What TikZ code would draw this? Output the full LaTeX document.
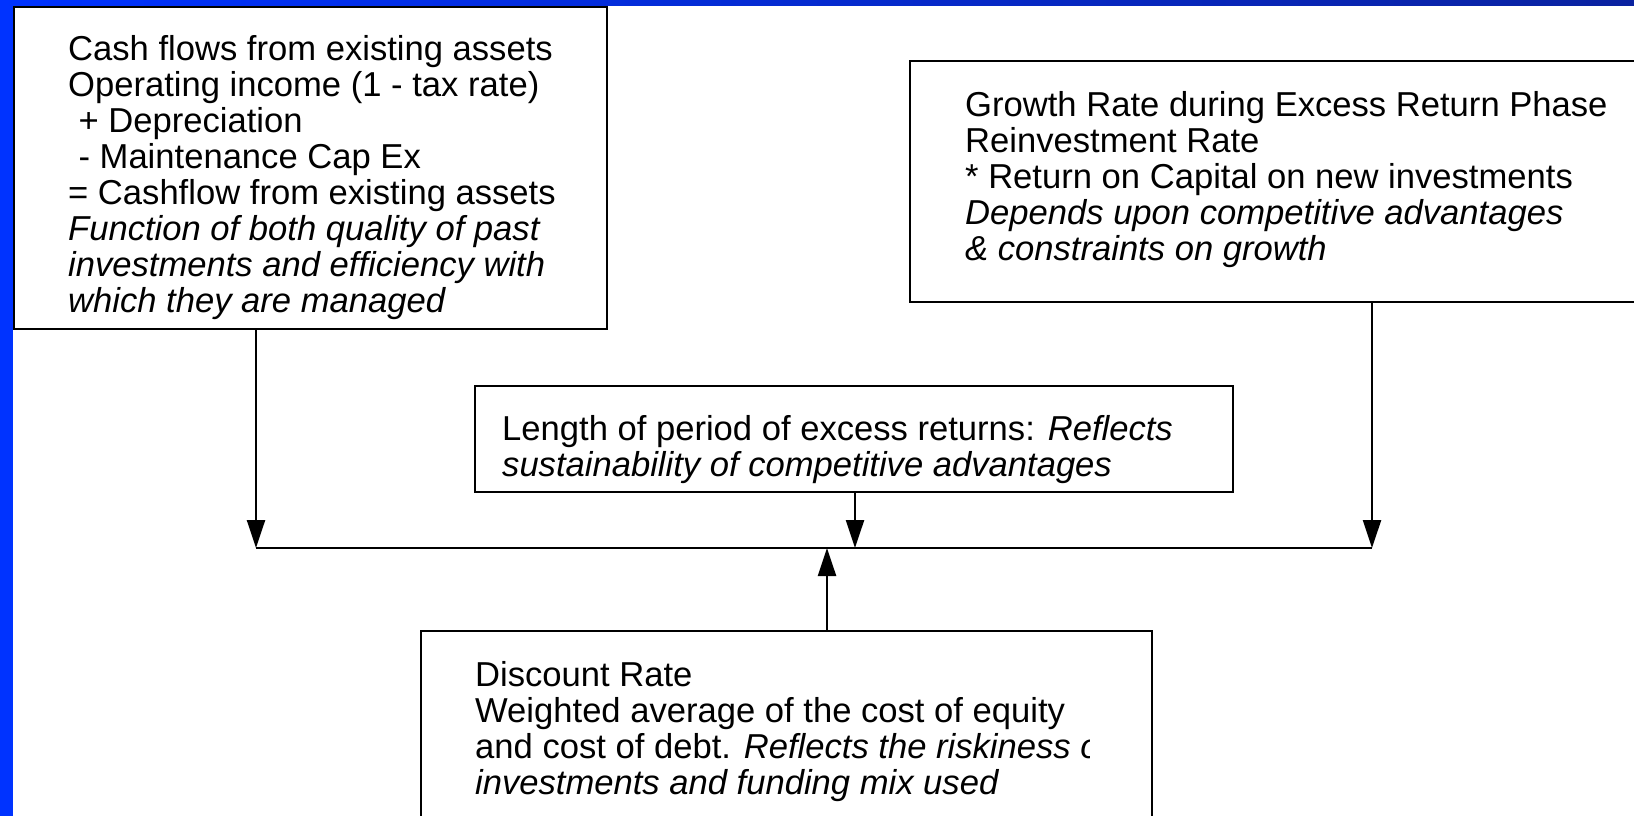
\documentclass[tikz,border=0pt]{standalone}
\usepackage{fontspec}
\setmainfont{Liberation Sans}
\usetikzlibrary{arrows.meta}
\definecolor{slideblue}{HTML}{0033FF}
\definecolor{slidenavy}{HTML}{0A22A0}
\tikzset{
	box/.style={draw, line width=2.8pt, anchor=north west, outer sep=0pt, inner sep=0pt},
	boxtext/.style={anchor=north west, align=left, inner sep=0pt, font=\fontsize{34.6}{36}\selectfont},
	arr/.style={line width=2.4pt, -{Triangle[length=28pt,width=18pt]}}
}
\begin{document}
\begin{tikzpicture}[x=1pt,y=-1pt]
		\useasboundingbox (0,0) rectangle (1634,816);
		%slide frame
		\fill[slideblue] (0,0) rectangle (13,816);
		\shade[left color=slideblue, right color=slidenavy] (0,0) rectangle (1634,6);
		
		%boxes
		\node[box, minimum width=593, minimum height=322] (cashbox) at (14,7) {};
		\node[box, minimum width=740, minimum height=241] (growthbox) at (910,61) {};
		\node[box, minimum width=758, minimum height=106] (lengthbox) at (475,386) {};
		\node[box, minimum width=731, minimum height=200] (ratebox) at (421,631) {};
		
		%texts
		\node[boxtext] (cashtext) at (68,35) {Cash flows from existing assets\\
			Operating income (1 - tax rate)\\
			\hspace{0.3em}+ Depreciation\\
			\hspace{0.3em}- Maintenance Cap Ex\\
			= Cashflow from existing assets\\
			\textit{Function of both quality of past}\\
			\textit{investments and efficiency with}\\
			\textit{which they are managed}};
		\node[boxtext] (growthtext) at (965,91) {Growth Rate during Excess Return Phase\\
			Reinvestment Rate\\
			* Return on Capital on new investments\\
			\textit{Depends upon competitive advantages}\\
			\textit{\& constraints on growth}};
		\node[boxtext] (lengthtext) at (502,415) {Length of period of excess returns: \textit{Reflects}\\
			\textit{sustainability of competitive advantages}};
		\begin{scope}
			\clip (421,631) rectangle (1089,816);
			\node[boxtext] (ratetext) at (475,661) {Discount Rate\\
				Weighted average of the cost of equity\\
				and cost of debt. \textit{Reflects the riskiness of}\\
				\textit{investments and funding mix used}};
		\end{scope}
		
		%joining line
		\coordinate (jl) at (256,548);
		\coordinate (jm) at (855,548);
		\coordinate (ju) at (827,548);
		\coordinate (jr) at (1372,548);
		\draw[line width=2.8pt] (jl) -- (jr);
		\draw[arr] (cashbox.south -| jl) -- (jl);
		\draw[arr] (lengthbox.south -| jm) -- (jm);
		\draw[arr] (growthbox.south -| jr) -- (jr);
		\draw[arr] (ratebox.north -| ju) -- (ju);
		\end{tikzpicture}
\end{document}
